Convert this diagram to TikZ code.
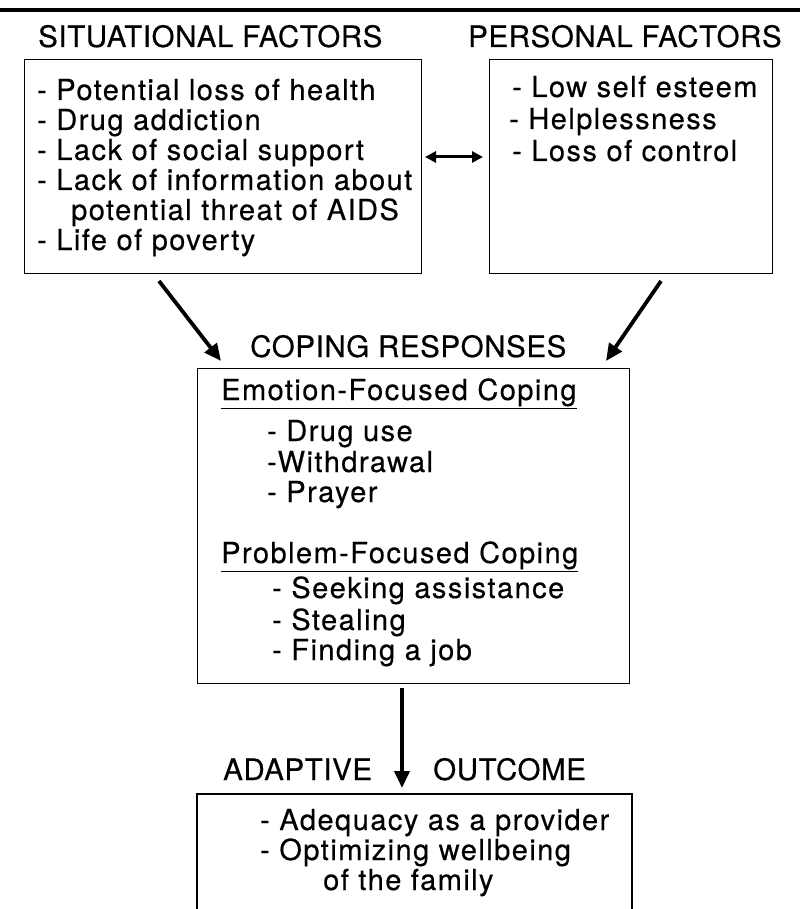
\documentclass[tikz,border=0pt]{standalone}
\usepackage{fontspec}
\setmainfont{TeX Gyre Heros}
\newfontfamily\bodyf[LetterSpace=5,FakeBold=0.4]{TeX Gyre Heros}
\newfontfamily\headf[LetterSpace=2,FakeBold=0.4]{TeX Gyre Heros}
\usetikzlibrary{arrows.meta}
\newcommand\bodyfnt{\bodyf\fontsize{29}{31}\selectfont}
\newcommand\headfnt{\headf\fontsize{29.5}{32}\selectfont}
\begin{document}
\begin{tikzpicture}[x=1pt,y=-1pt,
  box/.style={draw, line width=1.1pt, inner sep=0pt, anchor=north west},
  head/.style={font=\headfnt, anchor=base west, inner sep=0pt},
  item/.style={font=\bodyfnt, anchor=base west, inner sep=0pt},
  bigarrow/.style={line width=3.8pt, -{Triangle[length=17pt,width=15pt]}},
  dblarrow/.style={line width=3pt, {Triangle[length=11pt,width=11pt]}-{Triangle[length=11pt,width=11pt]}}]
\useasboundingbox (0,0) rectangle (800,909);
\fill[white] (0,0) rectangle (800,909);
% top rule
\draw[line width=3.5pt] (0,10) -- (800,10);
% headings
\node[head] (sith) at (38,47) {SITUATIONAL FACTORS};
\node[head] (perh) at (468,47) {PERSONAL FACTORS};
% boxes
\node[box, minimum width=397pt, minimum height=214pt] (sit) at (24,59) {};
\node[box, minimum width=283pt, minimum height=214pt] (per) at (489,59) {};
% situational list
\node[item] (s1) at (37,100) {- Potential loss of health};
\node[item] (s2) at (37,130) {- Drug addiction};
\node[item] (s3) at (37,160) {- Lack of social support};
\node[item] (s4) at (37,190) {- Lack of information about};
\node[item] (s5) at (71,220) {potential threat of AIDS};
\node[item] (s6) at (37,250) {- Life of poverty};
% personal list
\node[item] (p1) at (512,97) {- Low self esteem};
\node[item] (p2) at (509,129) {- Helplessness};
\node[item] (p3) at (512,161) {- Loss of control};
% double arrow
\coordinate (da) at (425,157);
\coordinate (db) at (483,157);
\draw[dblarrow] (da) -- (db);
% coping
\node[head] (coph) at (250,357) {COPING RESPONSES};
\coordinate (l1) at (159,281);
\coordinate (l2) at (221,361);
\coordinate (r1) at (661,281);
\coordinate (r2) at (606,361);
\draw[bigarrow] (l1) -- (l2);
\draw[bigarrow] (r1) -- (r2);
\node[box, minimum width=432pt, minimum height=315pt] (cope) at (197,368) {};
\node[item] (e0) at (221,400) {\underline{Emotion-Focused Coping}};
\node[item] (e1) at (267,441) {- Drug use};
\node[item] (e2) at (267,472) {-Withdrawal};
\node[item] (e3) at (267,502) {- Prayer};
\node[item] (f0) at (221,563) {\underline{Problem-Focused Coping}};
\node[item] (f1) at (272,598) {- Seeking assistance};
\node[item] (f2) at (272,630) {- Stealing};
\node[item] (f3) at (272,660) {- Finding a job};
% down arrow
\coordinate (d1) at (402,688);
\coordinate (d2) at (402,788);
\draw[bigarrow] (d1) -- (d2);
\node[head] (adh) at (223,780) {ADAPTIVE};
\node[head] (outh) at (433,780) {OUTCOME};
% outcome box (cut off at bottom)
\draw[line width=1.1pt] (197,915) -- (197,794) -- (632,794) -- (632,915);
\node[item] (o1) at (260,830) {- Adequacy as a provider};
\node[item] (o2) at (260,860) {- Optimizing wellbeing};
\node[item] (o3) at (323,890) {of the family};
\end{tikzpicture}
\end{document}
